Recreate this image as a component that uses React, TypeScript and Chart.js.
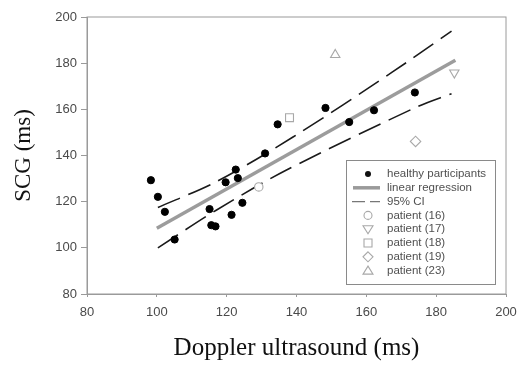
import React, { useEffect, useRef } from "react";
import { Chart, registerables } from "chart.js";

Chart.register(...registerables);

const healthyX = [98.3, 100.3, 102.3, 105.1, 115.1, 115.6, 116.8, 119.7, 121.4, 122.6, 123.2, 124.5, 131.0, 134.6, 148.3, 155.1, 162.2, 173.9];
const healthyY = [129.3, 122.1, 115.6, 103.6, 116.8, 109.8, 109.3, 128.4, 114.3, 133.9, 130.2, 119.5, 140.9, 153.5, 160.6, 154.5, 159.6, 167.3];

const regressionX = [100, 185.5];
const regressionY = [108.5, 181.3];

const ciUpperX = [100.3, 117, 139, 167.5, 184.4];
const ciUpperY = [117.5, 128.6, 148, 176.2, 193.9];
const ciLowerX = [100.3, 117, 137, 174.4, 184.4];
const ciLowerY = [100, 116.3, 133.6, 161, 166.8];

const patientLabels = ["patient (16)", "patient (17)", "patient (18)", "patient (19)", "patient (23)"];
const patientX = [129.2, 185.2, 138.0, 174.1, 151.1];
const patientY = [126.4, 175.9, 156.4, 146.1, 183.6];
const patientStyles = ["circle", "triangle", "rect", "rectRot", "triangle"];
const patientRotation = [0, 180, 0, 0, 0];
const patientRadius = [4.2, 5.4, 5.6, 5.2, 5.4];

const xTicks = [80, 100, 120, 140, 160, 180, 200];
const yTicks = [80, 100, 120, 140, 160, 180, 200];

const legendLabels = ["healthy participants", "linear regression", "95% CI", ...patientLabels];

const pts = (xs: number[], ys: number[]) => xs.map((x, i) => ({ x, y: ys[i] }));

const PATIENT_COLOR = "#a8a8a8";

function drawSymbol(ctx: CanvasRenderingContext2D, kind: string, x: number, y: number) {
  ctx.save();
  ctx.strokeStyle = PATIENT_COLOR;
  ctx.lineWidth = 1.1;
  ctx.beginPath();
  if (kind === "circle") {
    ctx.arc(x, y, 4, 0, Math.PI * 2);
  } else if (kind === "down") {
    ctx.moveTo(x - 5, y - 3.5);
    ctx.lineTo(x + 5, y - 3.5);
    ctx.lineTo(x, y + 4.5);
    ctx.closePath();
  } else if (kind === "rect") {
    ctx.rect(x - 4, y - 4, 8, 8);
  } else if (kind === "diamond") {
    ctx.moveTo(x, y - 5);
    ctx.lineTo(x + 5, y);
    ctx.lineTo(x, y + 5);
    ctx.lineTo(x - 5, y);
    ctx.closePath();
  } else if (kind === "up") {
    ctx.moveTo(x - 5, y + 3.5);
    ctx.lineTo(x + 5, y + 3.5);
    ctx.lineTo(x, y - 4.5);
    ctx.closePath();
  }
  ctx.stroke();
  ctx.restore();
}

const framePlugin = {
  id: "frame",
  beforeDatasetsDraw(chart: any) {
    const { ctx, chartArea } = chart;
    ctx.save();
    ctx.strokeStyle = "#9a9a9a";
    ctx.lineWidth = 1;
    ctx.strokeRect(chartArea.left, chartArea.top, chartArea.right - chartArea.left, chartArea.bottom - chartArea.top);
    ctx.restore();
  },
};

const legendPlugin = {
  id: "boxLegend",
  afterDatasetsDraw(chart: any) {
    const { ctx, chartArea } = chart;
    const right = chartArea.right - 11;
    const bottom = chartArea.bottom - 10;
    const w = 149;
    const h = 124;
    const left = right - w;
    const top = bottom - h;
    ctx.save();
    ctx.fillStyle = "#ffffff";
    ctx.fillRect(left, top, w, h);
    ctx.strokeStyle = "#8a8a8a";
    ctx.lineWidth = 1;
    ctx.strokeRect(left + 0.5, top + 0.5, w, h);
    const sx = left + 22;
    const tx = left + 41;
    const rowH = 13.8;
    ctx.font = "11.5px 'Liberation Sans', Arial, sans-serif";
    ctx.textBaseline = "middle";
    ctx.textAlign = "left";
    const kinds = ["dot", "line", "dash", "circle", "down", "rect", "diamond", "up"];
    legendLabels.forEach((label, i) => {
      const y = top + 14 + i * rowH;
      const k = kinds[i];
      if (k === "dot") {
        ctx.fillStyle = "#111";
        ctx.beginPath();
        ctx.arc(sx, y, 3, 0, Math.PI * 2);
        ctx.fill();
      } else if (k === "line") {
        ctx.strokeStyle = "#9a9a9a";
        ctx.lineWidth = 3.5;
        ctx.beginPath();
        ctx.moveTo(sx - 15, y);
        ctx.lineTo(sx + 12, y);
        ctx.stroke();
      } else if (k === "dash") {
        ctx.strokeStyle = "#777";
        ctx.lineWidth = 1.2;
        ctx.beginPath();
        ctx.moveTo(sx - 16, y);
        ctx.lineTo(sx - 3, y);
        ctx.moveTo(sx + 2, y);
        ctx.lineTo(sx + 12, y);
        ctx.stroke();
      } else {
        drawSymbol(ctx, k, sx, y);
      }
      ctx.fillStyle = "#505050";
      ctx.fillText(label, tx, y);
    });
    ctx.restore();
  },
};

export default function App() {
  const ref = useRef<HTMLCanvasElement | null>(null);

  useEffect(() => {
    if (!ref.current) return;
    const datasets: any[] = [
      {
        label: "healthy participants",
        data: pts(healthyX, healthyY),
        backgroundColor: "#000",
        borderColor: "#000",
        pointRadius: 3.6,
        pointStyle: "circle",
        order: 0,
      },
      {
        label: "linear regression",
        data: pts(regressionX, regressionY),
        showLine: true,
        borderColor: "#9c9c9c",
        borderWidth: 3.5,
        pointRadius: 0,
        order: 5,
      },
      {
        label: "95% CI upper",
        data: pts(ciUpperX, ciUpperY),
        showLine: true,
        borderColor: "#1a1a1a",
        borderWidth: 1.6,
        borderDash: [24, 9],
        pointRadius: 0,
        tension: 0.3,
        order: 6,
      },
      {
        label: "95% CI lower",
        data: pts(ciLowerX, ciLowerY),
        showLine: true,
        borderColor: "#1a1a1a",
        borderWidth: 1.6,
        borderDash: [24, 9],
        pointRadius: 0,
        tension: 0.3,
        order: 6,
      },
      ...patientLabels.map((label, i) => ({
        label,
        data: [{ x: patientX[i], y: patientY[i] }],
        pointStyle: patientStyles[i],
        rotation: patientRotation[i],
        pointRotation: patientRotation[i],
        pointRadius: patientRadius[i],
        backgroundColor: "#ffffff",
        borderColor: PATIENT_COLOR,
        borderWidth: 1.1,
        order: 1,
      })),
    ];

    const chart = new Chart(ref.current, {
      type: "scatter",
      data: { datasets },
      plugins: [framePlugin, legendPlugin],
      options: {
        animation: false,
        responsive: false,
        maintainAspectRatio: false,
        layout: { padding: { top: 17, right: 12, left: 0, bottom: 0 } },
        plugins: {
          legend: { display: false },
          tooltip: { enabled: false },
        },
        scales: {
          x: {
            type: "linear",
            min: 80,
            max: 200,
            afterFit: (s: any) => {
              s.height = 76;
              s.paddingLeft = 0;
              s.paddingRight = 0;
            },
            afterBuildTicks: (s: any) => {
              s.ticks = xTicks.map((v) => ({ value: v }));
            },
            grid: {
              drawOnChartArea: false,
              drawTicks: true,
              tickLength: 3,
              color: "#9a9a9a",
            },
            border: { color: "#9a9a9a", width: 1 },
            ticks: {
              padding: 8,
              color: "#4a4a4a",
              font: { family: "'Liberation Sans', Arial, sans-serif", size: 13 },
            },
            title: {
              display: true,
              text: "Doppler ultrasound (ms)",
              color: "#111",
              font: { family: "'Liberation Serif', 'Times New Roman', serif", size: 25 },
              padding: { top: 0, bottom: 7 },
            },
          },
          y: {
            type: "linear",
            min: 80,
            max: 200,
            afterFit: (s: any) => {
              s.width = 87;
            },
            afterBuildTicks: (s: any) => {
              s.ticks = yTicks.map((v) => ({ value: v }));
            },
            grid: {
              drawOnChartArea: false,
              drawTicks: true,
              tickLength: 6,
              color: "#9a9a9a",
            },
            border: { color: "#9a9a9a", width: 1 },
            ticks: {
              padding: 4,
              color: "#4a4a4a",
              font: { family: "'Liberation Sans', Arial, sans-serif", size: 13 },
            },
            title: {
              display: true,
              text: "SCG (ms)",
              color: "#111",
              font: { family: "'Liberation Serif', 'Times New Roman', serif", size: 23 },
              padding: { top: 10, bottom: 0 },
            },
          },
        },
      },
    });
    return () => chart.destroy();
  }, []);

  return (
    <div style={{ position: "fixed", left: 0, top: 0, width: 518, height: 370, background: "#fff" }}>
      <canvas ref={ref} width={518} height={370} style={{ width: 518, height: 370, display: "block" }} />
    </div>
  );
}
